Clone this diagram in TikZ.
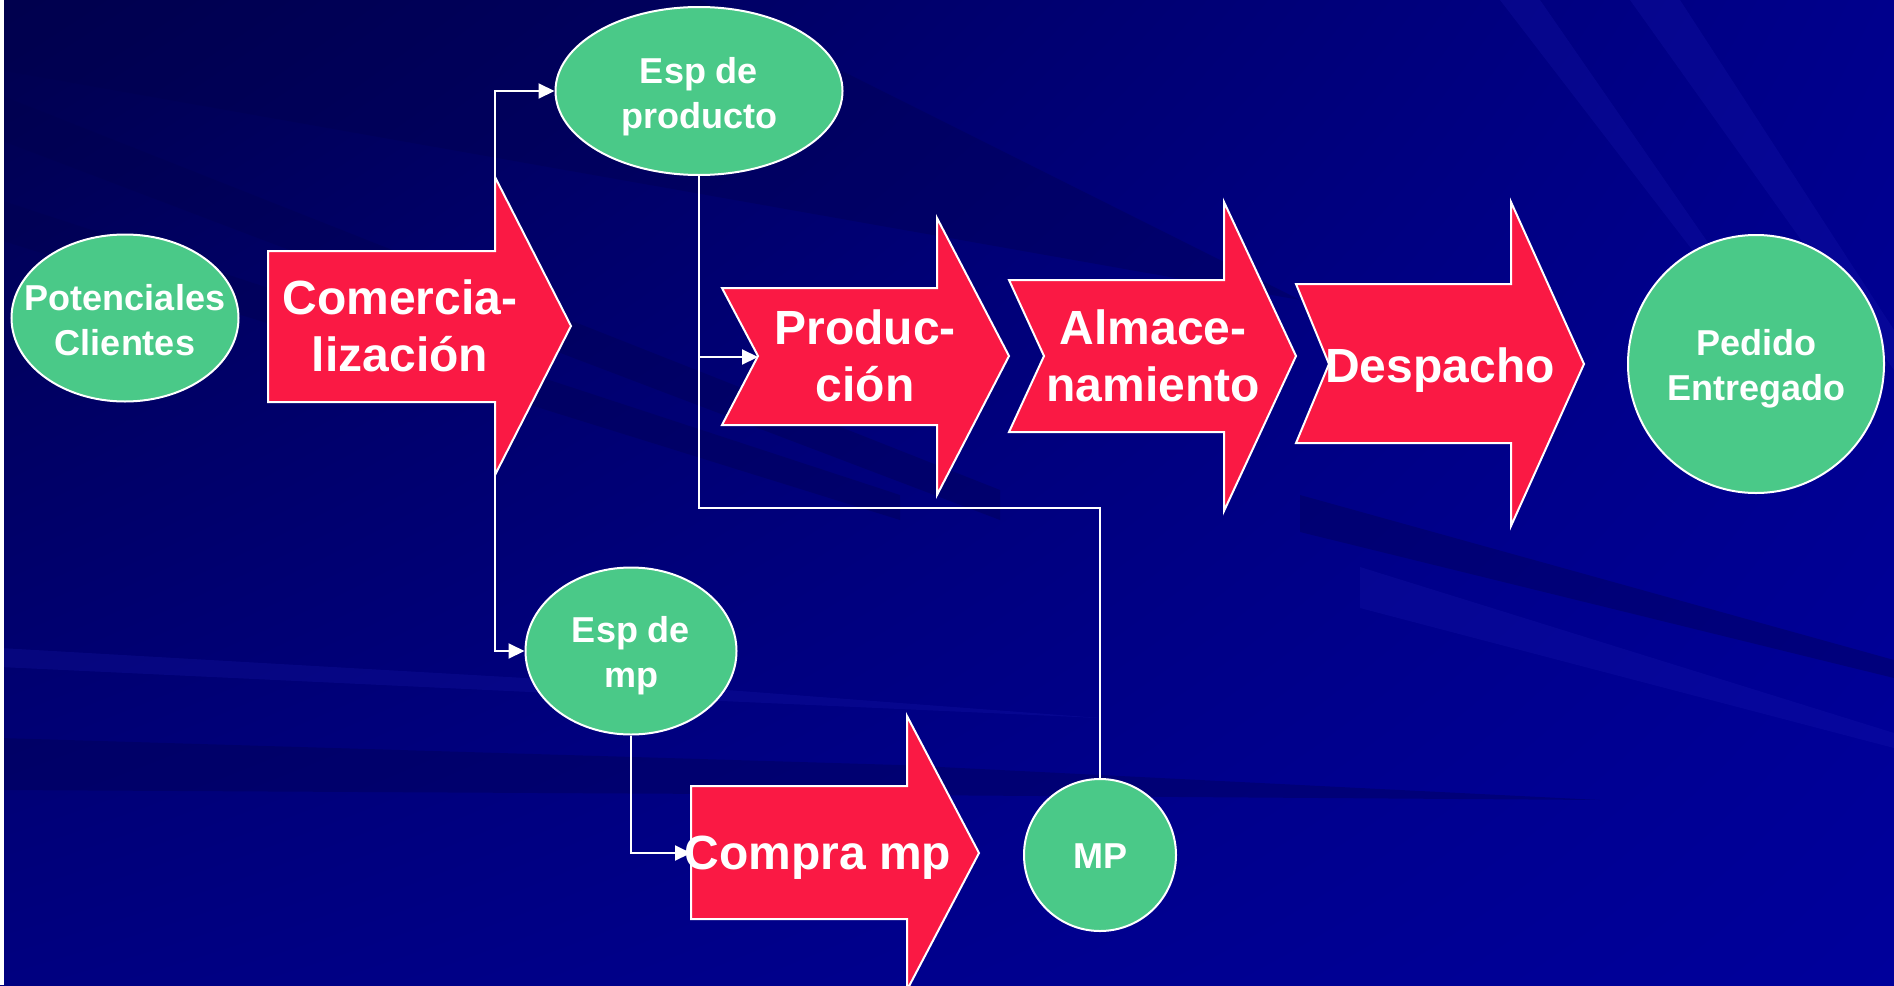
\documentclass[tikz,border=0pt]{standalone}
\usepackage{fontspec}
\setmainfont{Liberation Sans}
\usetikzlibrary{arrows.meta,shapes.geometric,shadings}
\definecolor{bgdark}{RGB}{0,0,78}
\definecolor{bgmid}{RGB}{0,0,128}
\definecolor{bgupright}{RGB}{0,0,140}
\definecolor{bgright}{RGB}{0,0,155}
\definecolor{bglight}{RGB}{30,30,180}
\definecolor{nodegreen}{RGB}{74,201,136}
\definecolor{arrowred}{RGB}{250,25,68}
\begin{document}
\begin{tikzpicture}[x=1pt,y=-1pt,
  ell/.style={ellipse,draw=white,line width=2pt,fill=nodegreen,inner sep=0pt},
  elltext/.style={text=white,inner sep=0pt,align=center,
    font=\fontsize{36}{45}\selectfont\bfseries},
  redshape/.style={draw=white,line width=2pt,fill=arrowred},
  biglabel/.style={text=white,align=center,inner sep=0pt,
    font=\fontsize{48}{57}\selectfont\bfseries},
  conn/.style={draw=white,line width=2pt},
  tipped/.style={conn,-{Triangle[length=16pt,width=15pt]}},
  darkstreak/.style={fill=bgdark,opacity=0.35},
  lightstreak/.style={fill=bglight,opacity=0.22}]
\useasboundingbox (0,0) rectangle (1894,985);
\clip (0,0) rectangle (1894,985);
% background
\shade[upper left=bgdark,upper right=bgupright,lower left=bgmid,lower right=bgright]
  (0,0) rectangle (1894,985);
\fill[darkstreak] (0,0) -- (700,0) -- (1300,300) -- (0,70) -- cycle;
\fill[darkstreak] (0,95) -- (0,140) -- (1000,520) -- (1000,490) -- cycle;
\fill[darkstreak] (0,200) -- (0,240) -- (900,520) -- (900,495) -- cycle;
\fill[darkstreak] (1300,495) -- (1894,660) -- (1894,678) -- (1300,532) -- cycle;
\fill[darkstreak] (0,738) -- (900,765) -- (1600,800) -- (900,795) -- (0,790) -- cycle;
\fill[lightstreak] (0,648) -- (700,688) -- (1100,718) -- (700,700) -- (0,667) -- cycle;
\fill[lightstreak] (1360,567) -- (1894,733) -- (1894,748) -- (1360,608) -- cycle;
\fill[lightstreak] (1500,0) -- (1540,0) -- (1720,260) -- (1700,260) -- cycle;
\fill[lightstreak] (1630,0) -- (1680,0) -- (1894,330) -- (1894,370) -- cycle;
\fill[white] (0,0) rectangle (4,985);
% red arrows
\path[redshape] (268,251) -- (495,251) -- (495,177) -- (571,326) -- (495,475) -- (495,402) -- (268,402) -- cycle;
\path[redshape] (722,288) -- (937,288) -- (937,218) -- (1009,356) -- (937,495) -- (937,425) -- (722,425) -- (758,356) -- cycle;
\path[redshape] (1009,280) -- (1224,280) -- (1224,202) -- (1296,356) -- (1224,511) -- (1224,432) -- (1009,432) -- (1044,356) -- cycle;
\path[redshape] (1296,284) -- (1511,284) -- (1511,202) -- (1584,364) -- (1511,526) -- (1511,443) -- (1296,443) -- (1329,364) -- cycle;
\path[redshape] (691,786) -- (907,786) -- (907,716) -- (979,853) -- (907,990) -- (907,919) -- (691,919) -- cycle;
\coordinate (comTop) at (495,177);
\coordinate (comBot) at (495,475);
\coordinate (prodIn) at (758,357);
\coordinate (compraIn) at (691,853);
\coordinate (corner) at (699,508);
% labels
\node[biglabel] (com) at (400,326) {Comercia-\\lización};
\node[biglabel] (prod) at (865,356) {Produc-\\ción};
\node[biglabel] (alm) at (1153,356) {Almace-\\namiento};
\node[biglabel] (desp) at (1440,370) {Despacho};
\node[biglabel] (compra) at (818,858) {Compra mp};
% ellipses
\node[ell,minimum width=227pt,minimum height=167pt] (pot) at (125,318) {};
\node[ell,minimum width=287pt,minimum height=168pt] (esp1) at (699,91) {};
\node[ell,minimum width=211pt,minimum height=167pt] (esp2) at (631,651) {};
\node[ell,minimum width=152pt,minimum height=152pt] (mp) at (1100,855) {};
\node[ell,minimum width=256pt,minimum height=258pt] (ped) at (1756,364) {};
\node[elltext] (potT) at (125,320) {Potenciales\\Clientes};
\node[elltext] (esp1T) at (699,97) {Esp de\\producto};
\node[elltext] (esp2T) at (631,656) {Esp de\\mp};
\node[elltext] (mpT) at (1100,856) {MP};
\node[elltext] (pedT) at (1756,369) {Pedido\\Entregado};
% connectors
\draw[tipped] (comTop) |- (esp1.west);
\draw[tipped] (comBot) |- (esp2.west);
\draw[conn] (esp1.south) -- (corner) -| (mp.north);
\draw[tipped] (esp1.south |- prodIn) -- (prodIn);
\draw[tipped] (esp2.south) |- (compraIn);
\end{tikzpicture}
\end{document}
